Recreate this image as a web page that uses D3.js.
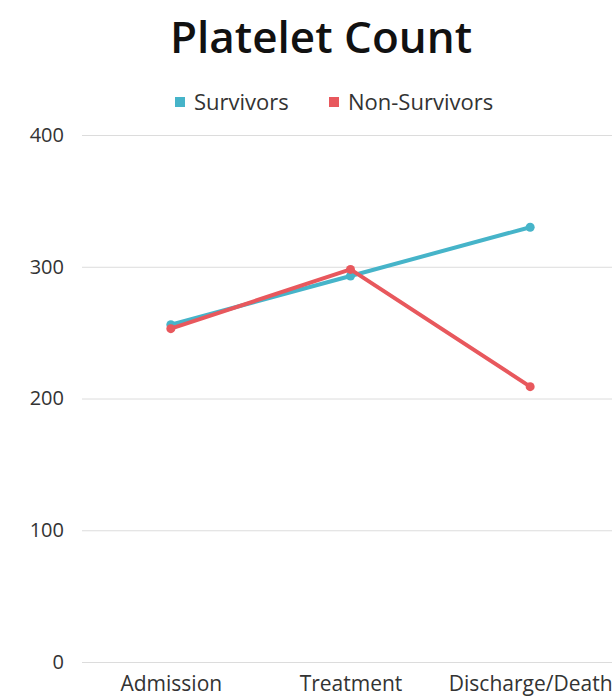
<!DOCTYPE html>
<html>
<head>
<meta charset="utf-8">
<script src="https://cdn.jsdelivr.net/npm/d3@7/dist/d3.min.js"></script>
<style>
  html, body { margin: 0; padding: 0; background: #fff; }
  svg { display: block; }
</style>
</head>
<body>
<svg id="chart" width="612" height="697"></svg>
<script>
// Platelet count at each stage, by outcome group
const stages = ["Admission", "Treatment", "Discharge/Death"];
const survivors = [256, 293, 330];
const nonSurvivors = [253, 298, 209];
const yTicks = [0, 100, 200, 300, 400];
const seriesNames = ["Survivors", "Non-Survivors"];
const seriesColors = ["#46b4c9", "#e8585d"];

const svg = d3.select("#chart");
const font = "'Open Sans', 'Noto Sans', sans-serif";

const x = d3.scalePoint().domain(stages).range([81, 620]).padding(0.5);
const y = d3.scaleLinear().domain([0, 400]).range([662, 135]);

// title
svg.append("text")
  .attr("x", 321).attr("y", 53)
  .attr("text-anchor", "middle")
  .style("font-family", font).style("font-weight", 600)
  .style("font-size", "44px").style("fill", "#111")
  .text("Platelet Count");

// legend
const legendX = [175, 329];
seriesNames.forEach((name, i) => {
  const g = svg.append("g").attr("transform", `translate(${legendX[i]},102)`);
  g.append("rect").attr("x", 0).attr("y", -5).attr("width", 10).attr("height", 10)
    .attr("fill", seriesColors[i]);
  g.append("text").attr("x", 19).attr("y", 8)
    .style("font-family", font).style("font-size", "22px").style("fill", "#333")
    .text(name);
});

// y axis grid and labels
const yAxis = d3.axisLeft(y).tickValues(yTicks).tickSize(-(620 - 82)).tickPadding(18);
const yg = svg.append("g").attr("transform", "translate(82,0)").call(yAxis);
yg.select(".domain").remove();
yg.selectAll(".tick line").attr("stroke", "#dcdcdc").attr("stroke-width", 1);
yg.selectAll(".tick text")
  .style("font-family", font).style("font-size", "20px").style("fill", "#333");

// x axis labels
const xAxis = d3.axisBottom(x).tickSize(0).tickPadding(14);
const xg = svg.append("g").attr("transform", "translate(0,662)").call(xAxis);
xg.select(".domain").remove();
xg.selectAll(".tick text")
  .style("font-family", font).style("font-size", "21px").style("fill", "#333");

// lines and points
const line = d3.line().x((d, i) => x(stages[i])).y(d => y(d));
[survivors, nonSurvivors].forEach((vals, i) => {
  svg.append("path").datum(vals)
    .attr("d", line).attr("fill", "none")
    .attr("stroke", seriesColors[i]).attr("stroke-width", 4)
    .attr("stroke-linejoin", "round").attr("stroke-linecap", "round");
  svg.selectAll(null).data(vals).enter().append("circle")
    .attr("cx", (d, j) => x(stages[j])).attr("cy", d => y(d))
    .attr("r", 4.5).attr("fill", seriesColors[i]);
});
</script>
</body>
</html>
